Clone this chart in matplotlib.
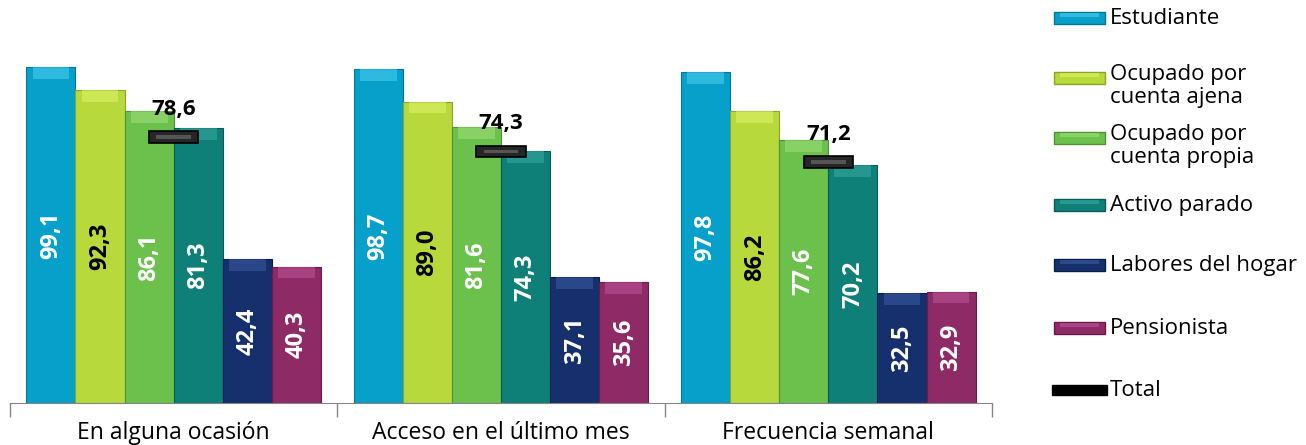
import matplotlib.pyplot as plt
import numpy as np
from matplotlib.patches import Rectangle

plt.rcParams["font.family"] = ["Open Sans", "DejaVu Sans"]

# Categories and series (values in %)
groups = ["En alguna ocasión", "Acceso en el último mes", "Frecuencia semanal"]
series = ["Estudiante", "Ocupado por\ncuenta ajena", "Ocupado por\ncuenta propia",
          "Activo parado", "Labores del hogar", "Pensionista"]
estudiante = [99.1, 98.7, 97.8]
cuenta_ajena = [92.3, 89.0, 86.2]
cuenta_propia = [86.1, 81.6, 77.6]
activo_parado = [81.3, 74.3, 70.2]
labores_hogar = [42.4, 37.1, 32.5]
pensionista = [40.3, 35.6, 32.9]
total = [78.6, 74.3, 71.2]

values = [estudiante, cuenta_ajena, cuenta_propia, activo_parado, labores_hogar, pensionista]
colors = ["#06a0cb", "#b8d93c", "#6cc04c", "#0e8078", "#16306e", "#8e2a66"]
tops = ["#4fd0ee", "#e0f46a", "#a0e07a", "#3aaaa2", "#3a5aa0", "#c0569a"]
edges = ["#04779a", "#8aa52a", "#4e9436", "#095c56", "#0c1f4a", "#661c48"]
text_colors = ["white", "black", "white", "white", "white", "white"]

W, H = 1306, 445
fig = plt.figure(figsize=(W / 100, H / 100), dpi=100)
ax = fig.add_axes([10 / W, 42 / H, 982 / W, 403 / H])

width = 0.15
x = np.arange(len(groups)) + 0.5
offsets = (np.arange(len(series)) - 2.5) * width
bevel = 3.5

for i, vals in enumerate(values):
    vals = np.array(vals)
    xs = x + offsets[i]
    ax.bar(xs, vals, width, color=colors[i], edgecolor=edges[i], linewidth=0.8, zorder=2)
    ax.bar(xs, bevel, width * 0.75, bottom=vals - bevel, color=tops[i], alpha=0.55,
           linewidth=0, zorder=3)
    for xx, v in zip(xs, vals):
        ax.text(xx, v / 2, f"{v:.1f}".replace(".", ","), rotation=90, ha="center",
                va="center", fontsize=17, fontweight="bold", color=text_colors[i], zorder=4)

# Total marker
tot = np.array(total)
ax.bar(x, 3.4, width, bottom=tot - 1.7, color="#262626", edgecolor="black",
       linewidth=1.2, zorder=5)
ax.bar(x, 1.0, width * 0.7, bottom=tot - 0.5, color="#555555", linewidth=0, zorder=6)
for xx, t in zip(x, tot):
    ax.text(xx, t + 5.0, f"{t:.1f}".replace(".", ","), ha="center", va="bottom",
            fontsize=16, fontweight="bold", color="black", zorder=6)

ax.set_xlim(0, 3)
ax.set_ylim(0, 119)
for s in ["top", "right", "left"]:
    ax.spines[s].set_visible(False)
ax.spines["bottom"].set_color("#868686")
ax.set_yticks([])
ax.set_xticks([0, 1, 2, 3])
ax.set_xticklabels([])
ax.tick_params(axis="x", length=10, color="#868686", width=1)
for xx, g in zip(x, groups):
    ax.text(xx, -0.075, g, transform=ax.get_xaxis_transform(), ha="center", va="center",
            fontsize=16.5, clip_on=False)

# Legend (manual, right side)
entry_y = [18, 78, 138, 205, 265, 328]
for i, (lab, yy) in enumerate(zip(series, entry_y)):
    fig.patches.append(Rectangle((1054 / W, 1 - (yy + 6) / H), 51 / W, 12 / H,
                                 facecolor=colors[i], edgecolor=edges[i], linewidth=1,
                                 transform=fig.transFigure))
    fig.patches.append(Rectangle((1060 / W, 1 - (yy - 1) / H), 39 / W, 4 / H,
                                 facecolor=tops[i], alpha=0.6, linewidth=0,
                                 transform=fig.transFigure))
    if "\n" in lab:
        fig.text(1110 / W, 1 - (yy - 14) / H, lab, ha="left", va="top", fontsize=16,
                 linespacing=1.1)
    else:
        fig.text(1110 / W, 1 - yy / H, lab, ha="left", va="center", fontsize=16)

fig.patches.append(Rectangle((1052 / W, 1 - 395 / H), 55 / W, 10 / H, facecolor="black",
                             edgecolor="black", transform=fig.transFigure))
fig.text(1110 / W, 1 - 390 / H, "Total", ha="left", va="center", fontsize=16)

fig.savefig("out.png", dpi=100)
